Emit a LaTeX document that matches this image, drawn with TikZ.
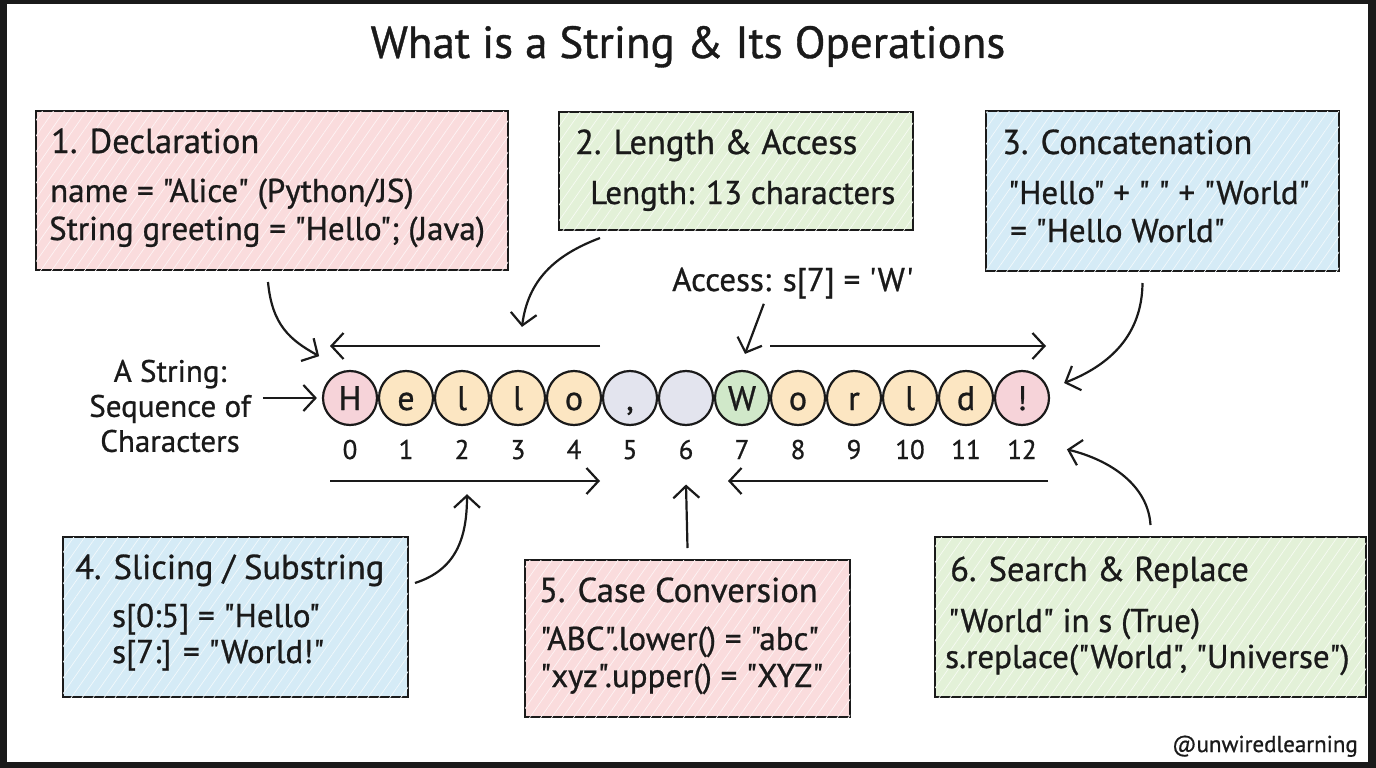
\documentclass[tikz,border=0pt]{standalone}
\usepackage{fontspec}
\setmainfont{PT Sans}[Ligatures=TeXOff, FakeBold=0.8]
\usetikzlibrary{arrows.meta,patterns.meta}
\definecolor{ink}{HTML}{1A1A1A}
\definecolor{pinkbox}{HTML}{FADCDD}
\definecolor{greenbox}{HTML}{E3F1D8}
\definecolor{bluebox}{HTML}{D5EBF6}
\definecolor{pinkc}{HTML}{F6D3D9}
\definecolor{peachc}{HTML}{FCE6C2}
\definecolor{grayc}{HTML}{E3E4EE}
\definecolor{greenc}{HTML}{D0E8C9}
\tikzset{
  box/.style={draw=ink, line width=2.6pt, rectangle, inner sep=0pt, outer sep=0pt, anchor=north west,
    postaction={pattern={Lines[angle=55,distance=9pt,line width=0.7pt]}, pattern color=white!70!#1},
    fill=#1},
  head/.style={anchor=base west, inner sep=0pt, text=ink, font=\fontsize{34.5}{38}\selectfont},
  body/.style={anchor=base west, inner sep=0pt, text=ink, font=\fontsize{33}{38}\selectfont},
  chr/.style={circle, draw=ink, line width=2.2pt, minimum size=54pt, inner sep=0pt, text=ink,
    text height=24pt, text depth=0pt, font=\fontsize{34}{38}\selectfont},
  idx/.style={anchor=base, inner sep=0pt, text=ink, font=\fontsize{27}{30}\selectfont},
  arr/.style={draw=ink, line width=2.2pt, -{Straight Barb[length=12pt,width=26pt,line width=2.2pt]}},
}
\begin{document}
\begin{tikzpicture}[x=1pt,y=-1pt]
\fill[ink] (0,0) rectangle (1376,768);
\fill[white] (7,4) rectangle (1368,762);
\useasboundingbox (0,0) rectangle (1376,768);

% title
\node[anchor=base, inner sep=0pt, text=ink, font=\fontsize{45}{50}\selectfont] (title) at (688,58) {What is a String \& Its Operations};

% boxes
\node[box=pinkbox, minimum width=472pt, minimum height=159pt] (b1) at (36,111) {};
\node[box=greenbox, minimum width=354pt, minimum height=118pt] (b2) at (559,112) {};
\node[box=bluebox, minimum width=353pt, minimum height=160pt] (b3) at (986,111) {};
\node[box=bluebox, minimum width=345pt, minimum height=160pt] (b4) at (63,537) {};
\node[box=pinkbox, minimum width=325pt, minimum height=157pt] (b5) at (525,560) {};
\node[box=greenbox, minimum width=431pt, minimum height=160pt] (b6) at (935,537) {};

% box texts
\node[head] (t1) at (51,153) {1. Declaration};
\node[body] (t1a) at (50,202) {name = "Alice" (Python/JS)};
\node[body] (t1b) at (49,240) {String greeting = "Hello"; (Java)};

\node[head] (t2) at (575,154) {2. Length \& Access};
\node[body] (t2a) at (590,204) {Length: 13 characters};

\node[head] (t3) at (1002,154) {3. Concatenation};
\node[body] (t3a) at (1008,204) {"Hello" + " " + "World"};
\node[body] (t3b) at (1010,242) {= "Hello World"};

\node[head] (t4) at (75,579) {4. Slicing / Substring};
\node[body] (t4a) at (112,627) {s[0:5] = "Hello"};
\node[body] (t4b) at (112,663) {s[7:] = "World!"};

\node[head] (t5) at (539,602) {5. Case Conversion};
\node[body] (t5a) at (540,650) {"ABC".lower() = "abc"};
\node[body] (t5b) at (540,687) {"xyz".upper() = "XYZ"};

\node[head] (t6) at (950,581) {6. Search \& Replace};
\node[body] (t6a) at (948,632) {"World" in s (True)};
\node[body] (t6b) at (945,668) {s.replace("World", "Universe")};

\node[body] (acc) at (672,291) {Access: s[7] = 'W'};

% string label
\node[align=center, inner sep=0pt, text=ink, font=\fontsize{31}{35}\selectfont] (str) at (170,406) {A String:\\Sequence of\\Characters};

% characters
\foreach \i/\c/\f in {0/H/pinkc, 1/e/peachc, 2/l/peachc, 3/l/peachc, 4/o/peachc, 5/{,}/grayc, 6/{}/grayc,
  7/W/greenc, 8/o/peachc, 9/r/peachc, 10/l/peachc, 11/d/peachc, 12/!/pinkc} {
  \node[chr, fill=\f] (c\i) at (350+56*\i,398) {\c};
  \node[idx] (i\i) at (350+56*\i,459) {\i};
}

% horizontal arrows
\coordinate (h1a) at (600,346); \coordinate (h1b) at (330,346);
\coordinate (h2a) at (770,346); \coordinate (h2b) at (1046,346);
\coordinate (h3a) at (330,481); \coordinate (h3b) at (600,481);
\coordinate (h4a) at (1048,481); \coordinate (h4b) at (728,481);
\draw[arr] (h1a) -- (h1b);
\draw[arr] (h2a) -- (h2b);
\draw[arr] (h3a) -- (h3b);
\draw[arr] (h4a) -- (h4b);

% connectors
\draw[arr] ([xshift=12pt]str.east |- c0.west) -- ([xshift=-5pt]c0.west);
\draw[arr] ([xshift=-4pt,yshift=-12pt]b1.south) .. controls (272,325) and (290,340) .. ([xshift=-11pt,yshift=22pt]c0.135);
\draw[arr] ([xshift=41pt,yshift=-8pt]b2.south west) .. controls (555,255) and (528,280) .. ([xshift=4pt,yshift=43pt]c3.north);
\draw[arr] ([xshift=-29pt,yshift=-5pt]acc.south) -- ([xshift=3pt,yshift=16pt]c7.north);
\draw[arr] ([xshift=-20pt,yshift=-12pt]b3.south) .. controls (1142,335) and (1110,365) .. ([xshift=14pt,yshift=15pt]c12.east);
\draw[arr] ([xshift=7pt,yshift=-46pt]b4.north east) .. controls (455,570) and (467,540) .. ([xshift=5pt,yshift=-35pt]i2.south);
\draw[arr] ([yshift=12pt]b5.north) -- ([yshift=-25pt]i6.south);
\draw[arr] ([yshift=12pt]b6.north) .. controls (1148,485) and (1110,460) .. ([xshift=30pt]i12.east);

% watermark
\node[anchor=base east, inner sep=0pt, text=ink, font=\fontsize{23}{26}\selectfont] (wm) at (1358,752) {@unwiredlearning};
\end{tikzpicture}
\end{document}
